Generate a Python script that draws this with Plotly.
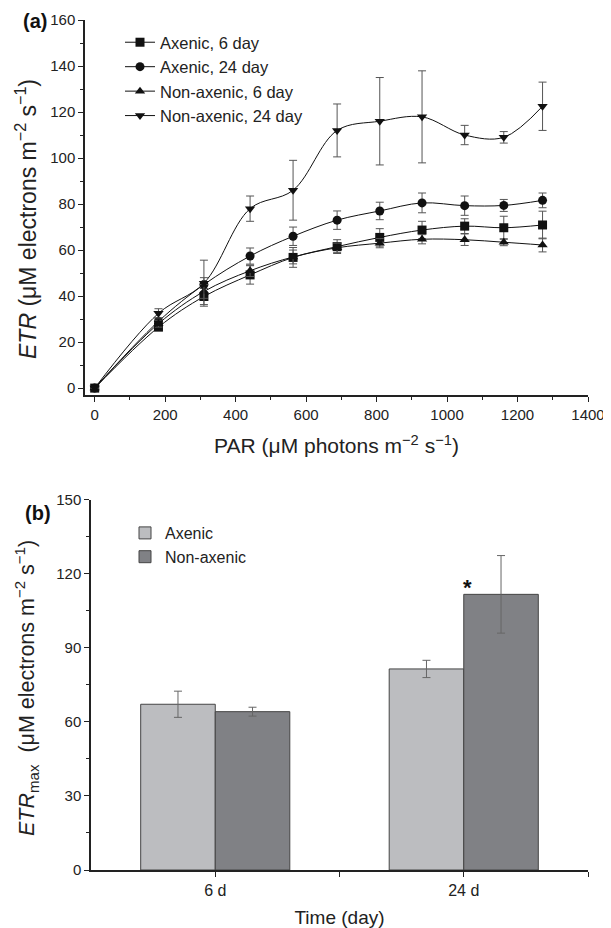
import plotly.graph_objects as go

# ---- Panel (a) data ----
par = [0, 181, 310, 441, 563, 688, 809, 929, 1050, 1161, 1271]
axenic_6 = [0, 26.5, 39.8, 49.2, 56.8, 61.5, 65.5, 68.7, 70.4, 69.7, 70.9]
axenic_6_err = [0, 1.5, 3.5, 4, 4.3, 3, 3.8, 3.8, 3.2, 5, 6]
axenic_24 = [0, 29, 45, 57.4, 66, 73, 77, 80.5, 79.3, 79.4, 81.6]
axenic_24_err = [0, 1.5, 3, 3.5, 4, 4, 3.8, 4.3, 4.2, 2.6, 3.2]
nonaxenic_6 = [0, 28, 42, 51, 57, 61, 63, 64.7, 64.5, 63.4, 62.2]
nonaxenic_6_err = [0, 1.5, 3, 2.5, 3, 2, 2, 2, 2.5, 1.5, 3]
nonaxenic_24 = [0, 32.5, 45.6, 78, 86, 112, 116, 117.9, 110, 109, 122.5]
nonaxenic_24_err = [0, 2, 10, 5.5, 13, 11.5, 19, 20, 4.2, 2.5, 10.5]

# ---- Panel (b) data ----
days = ["6 d", "24 d"]
day_pos = [0, 1]
etrmax_axenic = [67.1, 81.4]
etrmax_axenic_err = [5.3, 3.5]
etrmax_nonaxenic = [64.1, 111.6]
etrmax_nonaxenic_err = [1.8, 15.7]

FONT = "Liberation Sans, Arial, sans-serif"

fig = go.Figure()

series = [
    ("Axenic, 6 day", axenic_6, axenic_6_err, "square"),
    ("Axenic, 24 day", axenic_24, axenic_24_err, "circle"),
    ("Non-axenic, 6 day", nonaxenic_6, nonaxenic_6_err, "triangle-up"),
    ("Non-axenic, 24 day", nonaxenic_24, nonaxenic_24_err, "triangle-down"),
]
for name, vals, err, sym in series:
    fig.add_trace(go.Scatter(
        x=par, y=vals, name=name, mode="lines+markers",
        line=dict(color="#111", width=1, shape="spline", smoothing=1.0),
        marker=dict(symbol=sym, size=9, color="#111"),
        error_y=dict(type="data", array=err, visible=True, color="#555",
                     thickness=1, width=4),
        xaxis="x", yaxis="y", legend="legend",
    ))

fig.add_trace(go.Bar(
    x=day_pos, y=etrmax_axenic, name="Axenic",
    marker=dict(color="#bcbdc0", line=dict(color="#444", width=1)),
    error_y=dict(type="data", array=etrmax_axenic_err, visible=True,
                 color="#666", thickness=1, width=4),
    xaxis="x2", yaxis="y2", legend="legend2",
))
fig.add_trace(go.Bar(
    x=day_pos, y=etrmax_nonaxenic, name="Non-axenic",
    marker=dict(color="#808185", line=dict(color="#444", width=1)),
    error_y=dict(type="data", array=etrmax_nonaxenic_err, visible=True,
                 color="#666", thickness=1, width=4),
    xaxis="x2", yaxis="y2", legend="legend2",
))

# page body has an 8 px margin; work in window pixel coordinates
OFF = 8
W, H = 611 - OFF, 928 - OFF
def px_x(p):
    return (p - OFF) / W
def px_y(p):
    return 1 - (p - OFF) / H

axis_common = dict(
    showline=True, linecolor="#222", linewidth=1.5, ticks="outside",
    tickcolor="#222", ticklen=5, tickwidth=1.2, showgrid=False,
    zeroline=False, automargin=False,
    tickfont=dict(family=FONT, size=15, color="#222"),
)
minor_common = dict(ticks="outside", ticklen=3, tickcolor="#222", tickwidth=1.2)

fig.update_layout(
    width=W, height=H,
    margin=dict(l=0, r=0, t=0, b=0, autoexpand=False),
    paper_bgcolor="white", plot_bgcolor="white",
    font=dict(family=FONT, color="#222"),
    barmode="group", bargap=0.4, bargroupgap=0,
    xaxis=dict(domain=[px_x(85), px_x(588)], anchor="y",
               range=[-27.5, 1400], tickvals=list(range(0, 1401, 200)),
               minor=dict(dtick=100, tick0=0, **minor_common),
               title=dict(text="PAR (μM photons m<sup>−2</sup> s<sup>−1</sup>)",
                          font=dict(family=FONT, size=21, color="#222"), standoff=17),
               **axis_common),
    yaxis=dict(domain=[px_y(395), px_y(20)], anchor="x",
               range=[-3, 160], tickvals=list(range(0, 161, 20)),
               minor=dict(dtick=10, tick0=0, **minor_common),
               **axis_common),
    xaxis2=dict(domain=[px_x(91), px_x(588)], anchor="y2",
                range=[-0.5, 1.5], tickvals=[0, 0.5, 1, 1.5],
                ticktext=[days[0], "", days[1], ""],
                title=dict(text="Time (day)", font=dict(family=FONT, size=19, color="#222"),
                           standoff=13),
                **axis_common),
    yaxis2=dict(domain=[px_y(870), px_y(499.5)], anchor="x2",
                range=[0, 150], tickvals=list(range(0, 151, 30)),
                minor=dict(dtick=15, tick0=0, **minor_common),
                **axis_common),
    legend=dict(x=px_x(120), y=px_y(25), xanchor="left", yanchor="top",
                bgcolor="rgba(0,0,0,0)", font=dict(family=FONT, size=16.5, color="#222"),
                tracegroupgap=0),
    legend2=dict(x=px_x(125), y=px_y(516), xanchor="left", yanchor="top",
                 bgcolor="rgba(0,0,0,0)", font=dict(family=FONT, size=16, color="#222")),
    showlegend=True,
)
fig.update_xaxes(tickfont_size=16, selector=dict(anchor="y2"))

annotations = [
    dict(text="<b>(a)</b>", x=px_x(21), y=px_y(21), xref="paper", yref="paper",
         xanchor="left", yanchor="middle", showarrow=False,
         font=dict(family=FONT, size=20, color="#111")),
    dict(text="<b>(b)</b>", x=px_x(23), y=px_y(513), xref="paper", yref="paper",
         xanchor="left", yanchor="middle", showarrow=False,
         font=dict(family=FONT, size=20, color="#111")),
    dict(text="<i>ETR</i> (μM electrons m<sup>−2</sup> s<sup>−1</sup>)",
         x=px_x(26), y=px_y(219), xref="paper", yref="paper", textangle=-90,
         xanchor="center", yanchor="middle", showarrow=False,
         font=dict(family=FONT, size=23, color="#222")),
    dict(text="<i>ETR</i><sub>max</sub>  (μM electrons m<sup>−2</sup> s<sup>−1</sup>)",
         x=px_x(26), y=px_y(688), xref="paper", yref="paper", textangle=-90,
         xanchor="center", yanchor="middle", showarrow=False,
         font=dict(family=FONT, size=21.5, color="#222")),
    dict(text="<b>*</b>", x=1.015, y=108.5, xref="x2", yref="y2",
         xanchor="center", yanchor="bottom", showarrow=False,
         font=dict(family=FONT, size=22, color="#111")),
]
fig.update_layout(annotations=annotations)

fig.write_html("out.html")
